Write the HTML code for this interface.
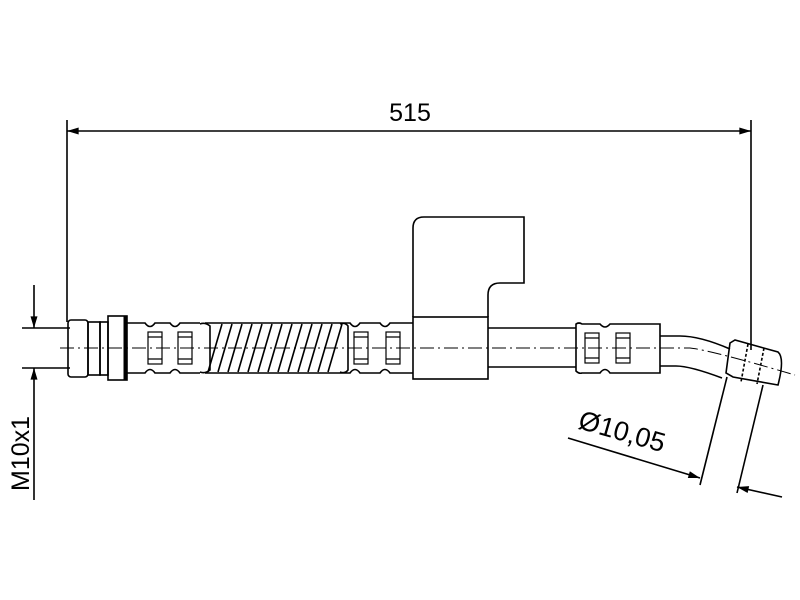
<!DOCTYPE html>
<html><head><style>body{margin:0;background:#fff}svg{display:block}</style></head><body>
<svg width="800" height="600" viewBox="0 0 800 600" xmlns="http://www.w3.org/2000/svg" font-family="Liberation Sans, sans-serif">
<defs><marker id="a" viewBox="0 0 10 6" refX="10" refY="3" markerWidth="14" markerHeight="7" orient="auto-start-reverse" markerUnits="userSpaceOnUse"><path d="M0,0L10,3L0,6z" fill="#000"/></marker></defs>
<g stroke="#000" stroke-width="1.6" fill="none">
<line x1="67" y1="120" x2="67" y2="322"/>
<line x1="751" y1="120" x2="751" y2="350"/>
<line x1="67" y1="131" x2="751" y2="131" marker-start="url(#a)" marker-end="url(#a)"/>
<line x1="22" y1="328" x2="70" y2="328"/>
<line x1="22" y1="368" x2="70" y2="368"/>
<line x1="34" y1="285" x2="34" y2="328" marker-end="url(#a)"/>
<line x1="34" y1="500" x2="34" y2="368" marker-end="url(#a)"/>
<rect x="68" y="320" width="20" height="57" rx="3"/>
<rect x="88" y="322" width="12" height="53"/>
<rect x="100" y="322" width="8" height="53"/>
<rect x="108" y="316" width="19" height="64"/>
<line x1="125" y1="316" x2="125" y2="380" stroke-width="3"/>
<path d="M127,323 H145 Q150,330 155,323 H170 Q175,330 180,323 H200 M345,323 H350 Q355,330 360,323 H380 Q385,330 390,323 H413"/>
<path d="M127,373 H145 Q150,366 155,373 H170 Q175,366 180,373 H200 M345,373 H350 Q355,366 360,373 H380 Q385,366 390,373 H413"/>
<g stroke-width="1.2">
<rect x="148" y="332" width="14" height="32"/><rect x="178" y="332" width="14" height="32"/>
<rect x="354" y="332" width="14" height="32"/><rect x="386" y="332" width="14" height="32"/>
<rect x="585" y="333" width="14" height="30"/><rect x="616" y="333" width="14" height="30"/>
<path d="M148,337H162M148,359H162M178,337H192M178,359H192M354,337H368M354,359H368M386,337H400M386,359H400M585,338H599M585,358H599M616,338H630M616,358H630"/>
</g>
<path d="M200,324 Q205,322 210,326 V370 Q205,374 200,372"/>
<path d="M340,324 Q345,322 348,326 V370 Q345,374 340,372"/>
<path d="M205,323 H345 M205,373 H345"/>
<g stroke-width="1.6">
<path d="M208,372 L222,324 M218,372 L232,324 M228,372 L242,324 M238,372 L252,324 M248,372 L262,324 M258,372 L272,324 M268,372 L282,324 M278,372 L292,324 M288,372 L302,324 M298,372 L312,324 M308,372 L322,324 M318,372 L332,324 M328,372 L342,324"/>
</g>
<path d="M413,317 V228 Q413,217 424,217 H524 V283 H500 Q488,283 488,295 V317"/>
<rect x="413" y="317" width="75" height="62"/>
<path d="M488,328 H576 M488,367 H576"/>
<path d="M576,324 Q579,322 582,324 H600 Q605,330 610,324 H660 V373 H610 Q605,366 600,373 H582 Q579,374 576,371 Z"/>
<path d="M660,336 H680 Q700,336 730,349"/>
<path d="M660,366 H676 Q690,366 722,378"/>
<path d="M730,343 L735,340 L778,352 Q785,358 778,385 L733,377 L726,373 Z"/>
<line x1="748" y1="344" x2="741" y2="382" stroke-dasharray="3,2"/>
<line x1="764" y1="348" x2="757" y2="384" stroke-dasharray="3,2"/>
<path d="M60,348 H690 Q710,350 795,375" stroke-width="1" stroke-dasharray="14,4,2,4"/>
<line x1="727" y1="377" x2="700" y2="485"/>
<line x1="763" y1="385" x2="737" y2="493"/>
<line x1="568" y1="438" x2="700" y2="478" marker-end="url(#a)"/>
<line x1="782" y1="497" x2="737" y2="487" marker-end="url(#a)"/>
</g>
<text x="410" y="121" font-size="25" text-anchor="middle">515</text>
<text transform="translate(577,428) rotate(16)" font-size="27">Ø10,05</text>
<text transform="translate(29,491) rotate(-90)" font-size="25">M10x1</text>
</svg>
</body></html>
